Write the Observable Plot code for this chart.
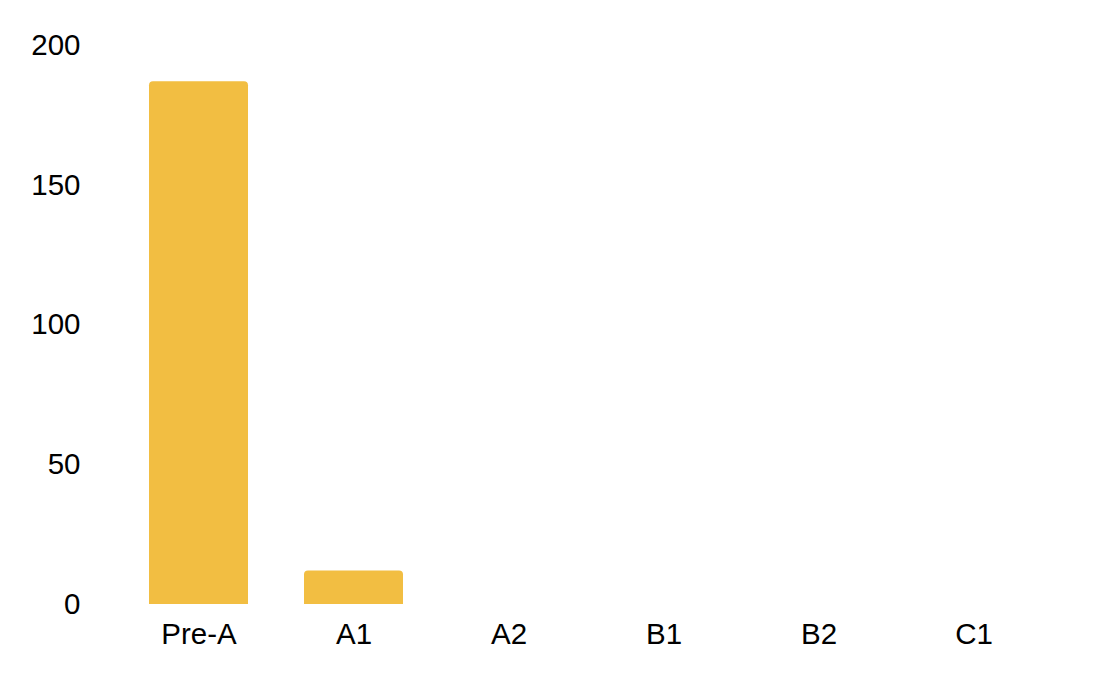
<!DOCTYPE html>
<html>
<head>
<meta charset="utf-8">
<script src="https://cdn.jsdelivr.net/npm/d3@7"></script>
<script src="https://cdn.jsdelivr.net/npm/@observablehq/plot@0.6"></script>
<style>
  html, body { margin: 0; padding: 0; background: #fff; }
  #chart svg { display: block; }
</style>
</head>
<body>
<div id="chart"></div>
<script>
const levels = ["Pre-A", "A1", "A2", "B1", "B2", "C1"];
const counts = [187, 12, 0, 0, 0, 0];
const yTicks = [0, 50, 100, 150, 200];

const data = levels.map((level, i) => ({level, count: counts[i]}));

const chart = Plot.plot({
  width: 1106,
  height: 680,
  marginLeft: 120,
  marginRight: 53,
  marginTop: 45,
  marginBottom: 76,
  style: {fontFamily: "'Liberation Sans', Arial, sans-serif", fontSize: "29.5px", color: "#000", background: "#fff"},
  x: {domain: levels, paddingInner: 0.36, paddingOuter: 0.18, label: null, tickSize: 0, tickPadding: 19},
  y: {domain: [0, 200], ticks: yTicks, label: null, tickSize: 0, tickPadding: 40},
  marks: [
    Plot.barY(data, {x: "level", y: "count", fill: "#F2BE42", ry1: 4})
  ]
});
document.getElementById("chart").appendChild(chart);
</script>
</body>
</html>
